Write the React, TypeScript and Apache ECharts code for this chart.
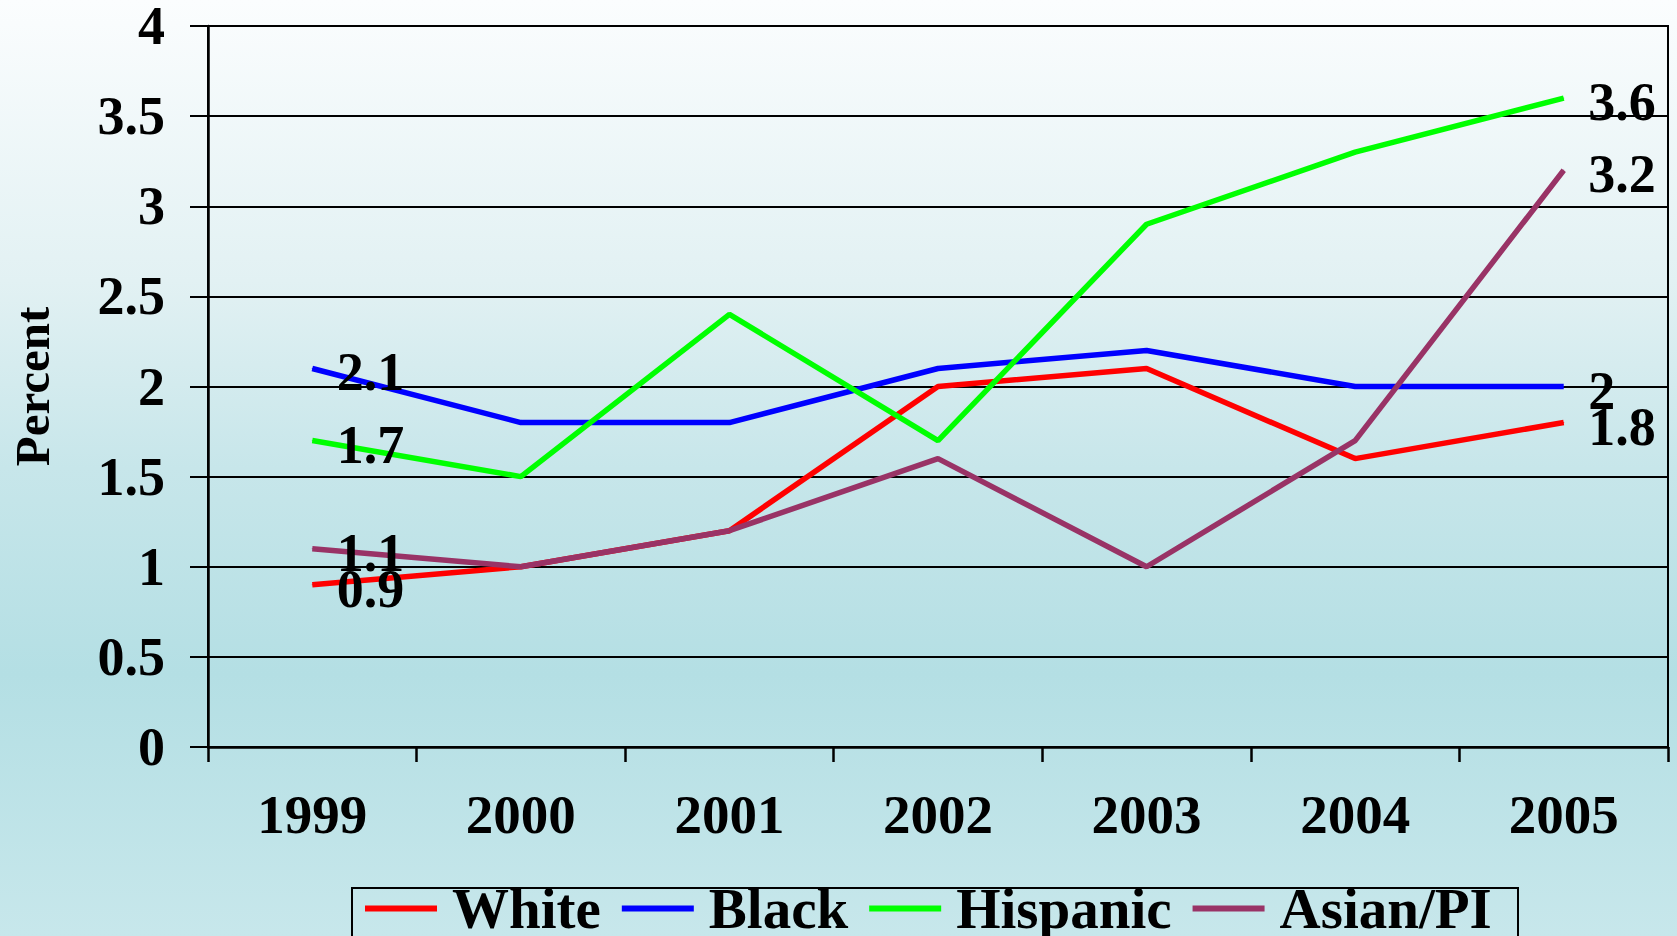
import React, { useEffect, useRef } from "react";
import * as echarts from "echarts";

const years = ["1999", "2000", "2001", "2002", "2003", "2004", "2005"];
const white = [0.9, 1.0, 1.2, 2.0, 2.1, 1.6, 1.8];
const black = [2.1, 1.8, 1.8, 2.1, 2.2, 2.0, 2.0];
const hispanic = [1.7, 1.5, 2.4, 1.7, 2.9, 3.3, 3.6];
const asianPI = [1.1, 1.0, 1.2, 1.6, 1.0, 1.7, 3.2];

const seriesDefs = [
  { name: "White", data: white, color: "#ff0000" },
  { name: "Black", data: black, color: "#0000ff" },
  { name: "Hispanic", data: hispanic, color: "#00ff00" },
  { name: "Asian/PI", data: asianPI, color: "#993366" },
];

const FONT = "'Liberation Serif', 'Times New Roman', serif";

export default function App() {
  const ref = useRef<HTMLDivElement>(null);
  useEffect(() => {
    if (!ref.current) return;
    const chart = echarts.init(ref.current, undefined, { renderer: "svg" });
    const last = years.length - 1;
    chart.setOption({
      animation: false,
      backgroundColor: new echarts.graphic.LinearGradient(0, 0, 0, 1, [
        { offset: 0, color: "#fbfdfe" },
        { offset: 0.3, color: "#e2f1f3" },
        { offset: 0.5, color: "#c7e6ea" },
        { offset: 0.72, color: "#b4dfe4" },
        { offset: 1, color: "#c7e7eb" },
      ]),
      grid: {
        left: 208,
        right: 9,
        top: 26,
        bottom: 189,
        show: true,
        borderColor: "#000",
        borderWidth: 2,
        backgroundColor: "transparent",
        outerBoundsMode: "none",
        containLabel: false,
      },
      legend: {
        left: 365,
        top: 880,
        padding: 0,
        icon: "rect",
        itemWidth: 72,
        itemHeight: 6,
        itemGap: 21,
        data: seriesDefs.map((s) => s.name),
        textStyle: {
          fontFamily: FONT,
          fontWeight: "bold",
          fontSize: 57,
          lineHeight: 40,
          color: "#000",
          padding: [0, 0, 0, 10],
        },
      },
      graphic: [
        {
          type: "rect",
          shape: { x: 352, y: 888, width: 1166, height: 70 },
          style: { fill: "none", stroke: "#000", lineWidth: 2 },
          z: 1,
        },
      ],
      xAxis: {
        type: "category",
        data: years,
        boundaryGap: true,
        axisLine: { lineStyle: { color: "#000", width: 2.5 } },
        axisTick: { show: true, length: 15, lineStyle: { color: "#000", width: 2.5 } },
        axisLabel: {
          margin: 40,
          color: "#000",
          fontFamily: FONT,
          fontWeight: "bold",
          fontSize: 55,
        },
        splitLine: { show: false },
      },
      yAxis: {
        type: "value",
        min: 0,
        max: 4,
        interval: 0.5,
        name: "Percent",
        nameLocation: "middle",
        nameRotate: 90,
        nameGap: 156,
        nameTextStyle: {
          color: "#000",
          fontFamily: FONT,
          fontWeight: "bold",
          fontSize: 49,
          lineHeight: 40,
        },
        axisLine: { show: true, lineStyle: { color: "#000", width: 2.5 } },
        axisTick: { show: true, length: 18, lineStyle: { color: "#000", width: 2 } },
        axisLabel: {
          margin: 43,
          color: "#000",
          fontFamily: FONT,
          fontWeight: "bold",
          fontSize: 54,
          lineHeight: 30,
          formatter: (v: number) => String(v),
        },
        splitLine: { show: true, lineStyle: { color: "#000", width: 2 } },
      },
      series: seriesDefs.map((s) => ({
        name: s.name,
        type: "line",
        data: s.data.map((v, i) => ({
          value: v,
          label: { show: i === 0 || i === last },
        })),
        symbol: "circle",
        symbolSize: 1,
        showSymbol: true,
        itemStyle: { color: s.color },
        lineStyle: { color: s.color, width: 5.5 },
        label: {
          position: "right",
          distance: 24,
          offset: [0, 4],
          color: "#000",
          fontFamily: FONT,
          fontWeight: "bold",
          fontSize: 54,
          lineHeight: 34,
          formatter: (p: any) => String(p.value),
        },
        emphasis: { disabled: true },
      })),
    });
    return () => chart.dispose();
  }, []);
  return (
    <div
      ref={ref}
      style={{ position: "absolute", left: 0, top: 0, width: 1677, height: 936 }}
    />
  );
}
